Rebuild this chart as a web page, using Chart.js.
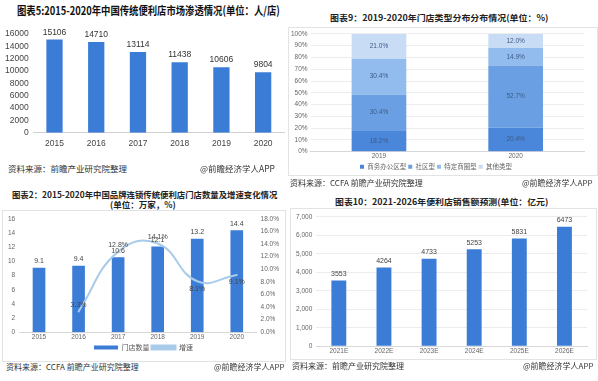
<!DOCTYPE html>
<html>
<head>
<meta charset="utf-8">
<script src="https://cdn.jsdelivr.net/npm/chart.js@4.4.1/dist/chart.umd.min.js"></script>
<style>
body{margin:0;width:598px;height:381px;background:#fff;position:relative;overflow:hidden;font-family:"Noto Sans CJK SC",sans-serif;}
.t{position:absolute;white-space:nowrap;font-weight:bold;color:#222;line-height:10px;transform-origin:0 0;}
.s{position:absolute;white-space:nowrap;font-size:8px;color:#333;line-height:10px;}
.box{position:absolute;border:1px solid #e3e3e3;}
canvas{position:absolute;}
</style>
</head>
<body>
<div class="box" style="left:288px;top:27px;width:308px;height:147px;"></div>
<div class="box" style="left:2px;top:210px;width:282px;height:150px;"></div>
<div class="box" style="left:290px;top:208px;width:305px;height:150px;"></div>

<div class="t" id="t1" style="left:17px;top:4px;font-size:11.5px;line-height:13px;color:#111;">图表5:2015-2020年中国传统便利店市场渗透情况(单位：人/店)</div>
<div class="t" id="t2" style="left:330px;top:12px;font-size:8.5px;">图表9：2019-2020年门店类型分布分布情况(单位：%)</div>
<div class="t" id="t3" style="left:12px;top:189px;font-size:8.5px;">图表2：2015-2020年中国品牌连锁传统便利店门店数量及增速变化情况</div>
<div class="t" style="left:110px;top:199px;font-size:8.5px;">(单位：万家，%)</div>
<div class="t" id="t4" style="left:335px;top:196px;font-size:8.5px;">图表10：2021-2026年便利店销售额预测(单位：亿元)</div>

<canvas id="c1" width="290" height="135" style="left:0;top:24px;"></canvas>
<canvas id="c2" width="308" height="153" style="left:288px;top:27px;"></canvas>
<canvas id="c3" width="283" height="150" style="left:2px;top:211px;"></canvas>
<canvas id="c4" width="305" height="149" style="left:290px;top:209px;"></canvas>

<div class="s" style="left:8px;top:163px;font-size:8.5px;">资料来源：前瞻产业研究院整理</div>
<div class="s" style="left:200px;top:163px;font-size:8.5px;">@前瞻经济学人APP</div>
<div class="s" style="left:290px;top:178px;">资料来源：CCFA 前瞻产业研究院整理</div>
<div class="s" style="left:522px;top:178px;">@前瞻经济学人APP</div>
<div class="s" style="left:6px;top:362px;">资料来源：CCFA 前瞻产业研究院整理</div>
<div class="s" style="left:214px;top:362px;">@前瞻经济学人APP</div>
<div class="s" style="left:292px;top:361px;">资料来源：前瞻产业研究院整理</div>
<div class="s" style="left:523px;top:361px;">@前瞻经济学人APP</div>

<script>
// 图表5 数据
const years = ['2015', '2016', '2017', '2018', '2019', '2020'];
const densityValues = [15106, 14710, 13114, 11438, 10606, 9804];

// 图表9 数据
const shareYears = ['2019', '2020'];
const storeTypes = ['商务办公区型', '社区型', '特定商圈型', '其他类型'];
const share2019 = [18.2, 30.4, 30.4, 21.0];
const share2020 = [20.4, 52.7, 14.9, 12.0];

// 图表2 数据
const chainStores = [9.1, 9.4, 10.6, 12.1, 13.2, 14.4];
const chainGrowth = [null, 3.3, 12.8, 14.1, 8.1, 9.1];

// 图表10 数据
const forecastYears = ['2021E', '2022E', '2023E', '2024E', '2025E', '2026E'];
const salesValues = [3553, 4264, 4733, 5253, 5831, 6473];

const barBlue = '#3b7cd6';

// fit titles to their width in the reference
function fitTitle(id, w) {
    const el = document.getElementById(id);
    el.style.transform = 'scaleX(' + (w / el.scrollWidth) + ')';
}
fitTitle('t1', 263);
fitTitle('t2', 218);
fitTitle('t3', 265);
fitTitle('t4', 213);

// 在柱子/点上写数值
const valueLabels = {
    id: 'valueLabels',
    afterDatasetsDraw(chart) {
        const ctx = chart.ctx;
        chart.data.datasets.forEach((ds, i) => {
            if (!ds.labelMode) return;
            const meta = chart.getDatasetMeta(i);
            ctx.save();
            ctx.font = (ds.labelSize || 8) + 'px "Liberation Sans"';
            ctx.fillStyle = ds.labelColor || '#444';
            ctx.textAlign = 'center';
            meta.data.forEach((el, j) => {
                const v = ds.data[j];
                if (v == null) return;
                const text = ds.labelFormat ? ds.labelFormat(v) : String(v);
                if (ds.labelMode === 'center') {
                    ctx.textBaseline = 'middle';
                    ctx.fillText(text, el.x, (el.y + el.base) / 2);
                } else if (ds.labelMode === 'point') {
                    const below = ds.labelBelow && ds.labelBelow[j];
                    ctx.textBaseline = below ? 'top' : 'bottom';
                    ctx.fillText(text, el.x, below ? el.y + 4 : el.y - 3);
                } else {
                    ctx.textBaseline = 'bottom';
                    ctx.fillText(text, el.x, el.y - 3);
                }
            });
            ctx.restore();
        });
    }
};

Chart.defaults.animation = false;
Chart.defaults.responsive = false;
Chart.defaults.color = '#555';

const tick85 = { family: 'Liberation Sans', size: 8.5 };
const tick65 = { family: 'Liberation Sans', size: 6.5 };

new Chart(document.getElementById('c1'), {
    type: 'bar',
    data: {
        labels: years,
        datasets: [{
            data: densityValues,
            backgroundColor: barBlue,
            barPercentage: 0.39,
            categoryPercentage: 1,
            labelMode: 'top',
            labelSize: 8.5,
            labelColor: '#333'
        }]
    },
    options: {
        layout: { padding: { left: 0, right: 6, top: 8, bottom: 4 } },
        plugins: { legend: { display: false }, tooltip: { enabled: false } },
        scales: {
            x: {
                grid: { display: false, drawTicks: false },
                border: { color: '#d0d0d0' },
                ticks: { font: tick85, color: '#444', padding: 6 }
            },
            y: {
                min: 0, max: 16000,
                grid: { display: false, drawTicks: false },
                border: { display: false },
                ticks: { stepSize: 2000, autoSkip: false, font: tick85, color: '#444', padding: 5, callback: v => String(v) }
            }
        }
    },
    plugins: [valueLabels]
});

const typeColors = ['#4a87da', '#6aa0e3', '#92bcee', '#c8dcf6'];
new Chart(document.getElementById('c2'), {
    type: 'bar',
    data: {
        labels: shareYears,
        datasets: storeTypes.map((name, i) => ({
            label: name,
            data: [share2019[i], share2020[i]],
            backgroundColor: typeColors[i],
            barPercentage: 0.4,
            categoryPercentage: 1,
            labelMode: 'center',
            labelSize: 6.5,
            labelColor: '#3d5a86',
            labelFormat: v => v.toFixed(1) + '%'
        }))
    },
    options: {
        layout: { padding: { left: 0, right: 12, top: 6, bottom: 0 } },
        plugins: {
            legend: {
                position: 'bottom',
                labels: {
                    boxWidth: 4, boxHeight: 4, padding: 2,
                    font: { family: 'Noto Sans CJK SC', size: 6.5 }, color: '#666'
                }
            },
            tooltip: { enabled: false }
        },
        scales: {
            x: {
                stacked: true,
                grid: { display: false, drawTicks: false },
                border: { color: '#d8d8d8' },
                ticks: { font: tick65, color: '#666', padding: 1 }
            },
            y: {
                stacked: true,
                min: 0, max: 100,
                grid: { color: '#ececec', drawTicks: false },
                border: { display: false },
                ticks: { stepSize: 10, autoSkip: false, font: tick65, color: '#666', padding: 3, callback: v => v + '%' }
            }
        }
    },
    plugins: [valueLabels]
});

new Chart(document.getElementById('c3'), {
    data: {
        labels: years,
        datasets: [{
            type: 'line',
            label: '增速',
            data: chainGrowth,
            yAxisID: 'y1',
            borderColor: '#a9cbea',
            backgroundColor: '#a9cbea',
            borderWidth: 2,
            borderCapStyle: 'round',
            tension: 0.45,
            pointRadius: 0,
            labelMode: 'point',
            labelBelow: [false, false, false, false, true, true],
            labelSize: 7,
            labelColor: '#444',
            labelFormat: v => v.toFixed(1) + '%'
        }, {
            type: 'bar',
            label: '门店数量',
            data: chainStores,
            yAxisID: 'y',
            backgroundColor: barBlue,
            barPercentage: 0.32,
            categoryPercentage: 1,
            labelMode: 'top',
            labelSize: 7,
            labelColor: '#444'
        }]
    },
    options: {
        layout: { padding: { left: 2, right: 2, top: 4, bottom: 0 } },
        plugins: {
            legend: {
                position: 'bottom',
                reverse: true,
                labels: {
                    boxWidth: 24, boxHeight: 4, padding: 2,
                    font: { family: 'Noto Sans CJK SC', size: 7 }, color: '#555'
                }
            },
            tooltip: { enabled: false }
        },
        scales: {
            x: {
                grid: { display: false, drawTicks: false },
                border: { color: '#d8d8d8' },
                ticks: { font: tick65, color: '#666', padding: 1 }
            },
            y: {
                min: 0, max: 16,
                grid: { display: false, drawTicks: false },
                border: { display: false },
                ticks: { stepSize: 2, autoSkip: false, font: tick65, color: '#666', padding: 4 }
            },
            y1: {
                position: 'right',
                min: 0, max: 18,
                grid: { display: false, drawTicks: false },
                border: { display: false },
                ticks: { stepSize: 2, autoSkip: false, font: tick65, color: '#666', padding: 4, callback: v => v.toFixed(1) + '%' }
            }
        }
    },
    plugins: [valueLabels]
});

new Chart(document.getElementById('c4'), {
    type: 'bar',
    data: {
        labels: forecastYears,
        datasets: [{
            data: salesValues,
            backgroundColor: barBlue,
            barPercentage: 0.33,
            categoryPercentage: 1,
            labelMode: 'top',
            labelSize: 7,
            labelColor: '#444'
        }]
    },
    options: {
        layout: { padding: { left: 2, right: 8, top: 7, bottom: 2 } },
        plugins: { legend: { display: false }, tooltip: { enabled: false } },
        scales: {
            x: {
                grid: { display: false, drawTicks: false },
                border: { color: '#d8d8d8' },
                ticks: { font: tick65, color: '#666', padding: 1 }
            },
            y: {
                min: 0, max: 7000,
                grid: { color: '#ececec', drawTicks: false },
                border: { display: false },
                ticks: { stepSize: 1000, autoSkip: false, font: tick65, color: '#666', padding: 4 }
            }
        }
    },
    plugins: [valueLabels]
});
</script>
</body>
</html>
